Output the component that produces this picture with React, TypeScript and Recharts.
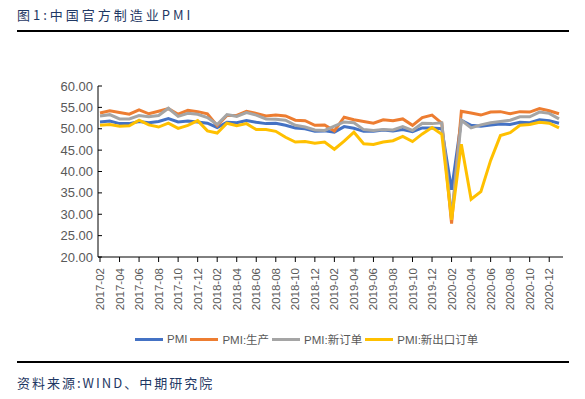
import React from "react"
import { LineChart, Line, XAxis, YAxis, Legend } from "recharts"

const months = [
  "2017-02", "2017-03", "2017-04", "2017-05", "2017-06", "2017-07", "2017-08", "2017-09", "2017-10", "2017-11", "2017-12",
  "2018-01", "2018-02", "2018-03", "2018-04", "2018-05", "2018-06", "2018-07", "2018-08", "2018-09", "2018-10", "2018-11", "2018-12",
  "2019-01", "2019-02", "2019-03", "2019-04", "2019-05", "2019-06", "2019-07", "2019-08", "2019-09", "2019-10", "2019-11", "2019-12",
  "2020-01", "2020-02", "2020-03", "2020-04", "2020-05", "2020-06", "2020-07", "2020-08", "2020-09", "2020-10", "2020-11", "2020-12",
  "2021-01",
]

const pmi = [
  51.6, 51.8, 51.2, 51.2, 51.7, 51.4, 51.7, 52.4, 51.6, 51.8, 51.6,
  51.3, 50.3, 51.5, 51.4, 51.9, 51.5, 51.2, 51.3, 50.8, 50.2, 50.0, 49.4,
  49.5, 49.2, 50.5, 50.1, 49.4, 49.4, 49.7, 49.5, 49.8, 49.3, 50.2, 50.2,
  50.0, 35.7, 52.0, 50.8, 50.6, 50.9, 51.1, 51.0, 51.5, 51.4, 52.1, 51.9,
  51.3,
]

const production = [
  53.7, 54.2, 53.8, 53.4, 54.4, 53.5, 54.1, 54.7, 53.4, 54.3, 54.0,
  53.5, 50.7, 53.1, 53.1, 54.1, 53.6, 53.0, 53.2, 53.0, 52.0, 51.9, 50.8,
  50.9, 49.5, 52.7, 52.1, 51.7, 51.3, 52.1, 51.9, 52.3, 50.8, 52.6, 53.2,
  51.3, 27.8, 54.1, 53.7, 53.2, 53.9, 54.0, 53.5, 54.0, 53.9, 54.7, 54.2,
  53.5,
]

const newOrders = [
  53.0, 53.3, 52.3, 52.3, 53.1, 52.8, 53.1, 54.8, 52.9, 53.6, 53.4,
  52.6, 51.0, 53.3, 52.9, 53.8, 53.2, 52.3, 52.2, 52.0, 50.8, 50.4, 49.7,
  49.6, 50.6, 51.6, 51.4, 49.8, 49.6, 49.8, 49.7, 50.5, 49.6, 51.3, 51.2,
  51.4, 29.3, 52.0, 50.2, 50.9, 51.4, 51.7, 52.0, 52.8, 52.8, 53.9, 53.6,
  52.3,
]

const exportOrders = [
  50.8, 51.0, 50.6, 50.7, 52.0, 50.9, 50.4, 51.3, 50.1, 50.8, 51.9,
  49.5, 49.0, 51.3, 50.7, 51.2, 49.8, 49.8, 49.4, 48.0, 46.9, 47.0, 46.6,
  46.9, 45.2, 47.1, 49.2, 46.5, 46.3, 46.9, 47.2, 48.2, 47.0, 48.8, 50.3,
  48.7, 28.7, 46.4, 33.5, 35.3, 42.6, 48.4, 49.1, 50.8, 51.0, 51.5, 51.3,
  50.2,
]

const yTicks = [20, 25, 30, 35, 40, 45, 50, 55, 60]

const series = [
  { key: "pmi", name: "PMI", color: "#4472C4" },
  { key: "production", name: "PMI:生产", color: "#ED7D31" },
  { key: "newOrders", name: "PMI:新订单", color: "#A5A5A5" },
  { key: "exportOrders", name: "PMI:新出口订单", color: "#FFC000" },
]

const data = months.map((m, i) => ({
  month: m,
  pmi: pmi[i],
  production: production[i],
  newOrders: newOrders[i],
  exportOrders: exportOrders[i],
}))

const labelFont = "'Liberation Sans', Arial, 'Noto Sans CJK SC', sans-serif"
const navy = "#1F3864"

// rotated month labels, reading bottom to top
function MonthTick(props: any) {
  const { x, y, payload } = props
  return (
    <text
      x={0}
      y={0}
      transform={`translate(${x + 4},${y + 4}) rotate(-90)`}
      textAnchor="end"
      fontSize={11.5}
      fill="#595959"
      fontFamily={labelFont}
    >
      {payload.value}
    </text>
  )
}

function LegendRow() {
  return (
    <div style={{ display: "flex", alignItems: "center", paddingLeft: 135, fontFamily: labelFont, fontSize: 11.5, color: "#595959" }}>
      {series.map((s) => (
        <div key={s.key} style={{ display: "flex", alignItems: "center", marginRight: 3 }}>
          <span style={{ display: "inline-block", width: 28, height: 3, background: s.color, marginRight: 4 }} />
          <span>{s.name}</span>
        </div>
      ))}
    </div>
  )
}

export default function App() {
  return (
    <div style={{ position: "absolute", left: 0, top: 0, width: 585, height: 399, background: "#fff" }}>
      <div
        style={{
          position: "absolute",
          left: 17,
          top: 7,
          fontFamily: "'Noto Sans CJK SC', sans-serif",
          fontSize: 13,
          letterSpacing: 3,
          color: navy,
          lineHeight: "16px",
        }}
      >
        图1:中国官方制造业PMI
      </div>
      <div style={{ position: "absolute", left: 17, top: 30, width: 552, height: 2, background: "#000" }} />

      <div style={{ position: "absolute", left: 0, top: 0 }}>
        <LineChart width={585} height={399} data={data} margin={{ top: 86, right: 22, bottom: 0, left: 0 }}>
          <XAxis
            dataKey="month"
            interval={1}
            tick={<MonthTick />}
            tickSize={5}
            height={142}
            padding={{ left: 2, right: 4 }}
            axisLine={{ stroke: "#000" }}
            tickLine={{ stroke: "#000" }}
          />
          <YAxis
            domain={[20, 60]}
            ticks={yTicks}
            tickFormatter={(v: number) => v.toFixed(2)}
            width={98}
            tickSize={-4}
            tickMargin={9}
            axisLine={{ stroke: "#000" }}
            tickLine={{ stroke: "#000" }}
            tick={{ fontSize: 13, fill: "#595959", fontFamily: labelFont }}
          />
          <Legend
            layout="horizontal"
            verticalAlign="middle"
            align="center"
            wrapperStyle={{ top: 331, left: 0, width: 585 }}
            content={<LegendRow />}
          />
          {series.map((s) => (
            <Line
              key={s.key}
              type="linear"
              dataKey={s.key}
              name={s.name}
              stroke={s.color}
              strokeWidth={3}
              dot={false}
              isAnimationActive={false}
            />
          ))}
        </LineChart>
      </div>

      <div style={{ position: "absolute", left: 17, top: 361, width: 552, height: 2, background: "#000" }} />
      <div
        style={{
          position: "absolute",
          left: 17,
          top: 375,
          fontFamily: "'Noto Sans CJK SC', sans-serif",
          fontSize: 13,
          letterSpacing: 2,
          color: navy,
          lineHeight: "16px",
        }}
      >
        资料来源:WIND、中期研究院
      </div>
    </div>
  )
}
